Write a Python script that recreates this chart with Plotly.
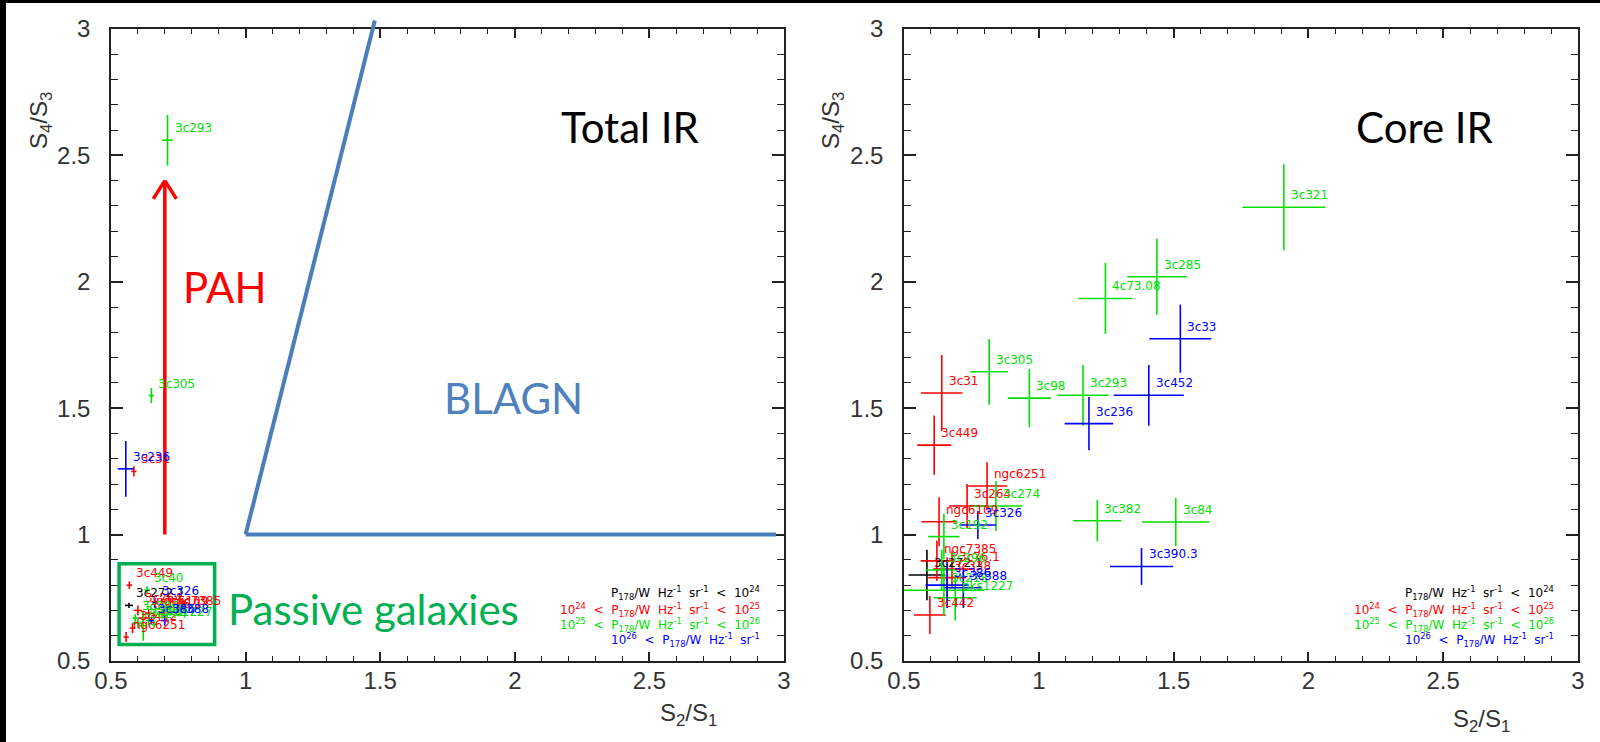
import plotly.graph_objects as go

# ---------------- data ----------------
# class codes: k = P<1e24, r = 1e24-1e25, g = 1e25-1e26, b = >1e26
left_names = ["3c293", "3c305", "3c236", "3c31", "3c449", "3c40", "3c272.1", "3c326",
              "ngc6251", "3c264", "ngc6109", "3c338", "3c76.1", "3c442", "ngc7385",
              "3c386", "3c388", "3c274", "pks1227", "3c218", "3c192", "3c296"]
left_x = [0.71, 0.65, 0.555, 0.585, 0.568, 0.634, 0.567, 0.663,
          0.556, 0.60, 0.64, 0.62, 0.66, 0.58, 0.69,
          0.65, 0.70, 0.62, 0.66, 0.60, 0.64, 0.59]
left_y = [2.56, 1.55, 1.26, 1.25, 0.80, 0.781, 0.72, 0.73,
          0.595, 0.70, 0.69, 0.67, 0.68, 0.63, 0.69,
          0.66, 0.66, 0.64, 0.645, 0.65, 0.66, 0.67]
left_xerr = [0.02, 0.01, 0.03, 0.01, 0.01, 0.01, 0.015, 0.01,
             0.01, 0.015, 0.01, 0.02, 0.01, 0.01, 0.01,
             0.01, 0.015, 0.015, 0.01, 0.02, 0.01, 0.01]
left_yerr = [0.10, 0.03, 0.11, 0.02, 0.015, 0.015, 0.01, 0.02,
             0.02, 0.02, 0.015, 0.02, 0.015, 0.02, 0.015,
             0.015, 0.02, 0.06, 0.015, 0.02, 0.02, 0.015]
left_cls = ["g", "g", "b", "r", "r", "g", "k", "b",
            "r", "r", "r", "r", "r", "r", "r",
            "b", "b", "g", "g", "g", "g", "g"]

right_names = ["3c321", "3c285", "4c73.08", "3c33", "3c452", "3c236", "3c293", "3c98",
               "3c305", "3c31", "3c449", "ngc6251", "3c264", "3c274", "ngc6109", "3c326",
               "3c192", "3c382", "3c84", "3c390.3", "3c272.1", "ngc7385", "3c76.1",
               "3c338", "3c442", "3c388", "3c386", "3c218", "pks1227", "3c296"]
right_x = [1.909, 1.438, 1.247, 1.525, 1.408, 1.186, 1.164, 0.965,
           0.816, 0.640, 0.612, 0.808, 0.734, 0.841, 0.630, 0.774,
           0.648, 1.217, 1.508, 1.381, 0.585, 0.622, 0.678,
           0.660, 0.596, 0.720, 0.660, 0.648, 0.690, 0.640]
right_y = [2.295, 2.020, 1.934, 1.775, 1.551, 1.439, 1.551, 1.540,
           1.644, 1.560, 1.354, 1.192, 1.113, 1.113, 1.051, 1.038,
           0.992, 1.055, 1.050, 0.874, 0.840, 0.896, 0.864,
           0.830, 0.682, 0.790, 0.800, 0.780, 0.750, 0.860]
right_xerr = [0.154, 0.110, 0.100, 0.115, 0.130, 0.090, 0.095, 0.080,
              0.070, 0.077, 0.063, 0.074, 0.067, 0.098, 0.065, 0.068,
              0.058, 0.089, 0.125, 0.117, 0.068, 0.060, 0.070,
              0.070, 0.059, 0.070, 0.080, 0.150, 0.080, 0.060]
right_yerr = [0.170, 0.150, 0.140, 0.135, 0.120, 0.105, 0.120, 0.115,
              0.130, 0.150, 0.117, 0.094, 0.087, 0.099, 0.097, 0.055,
              0.090, 0.082, 0.095, 0.073, 0.100, 0.080, 0.070,
              0.080, 0.075, 0.080, 0.090, 0.100, 0.090, 0.080]
right_cls = ["g", "g", "g", "b", "b", "b", "g", "g",
             "g", "r", "r", "r", "r", "g", "r", "b",
             "g", "g", "g", "b", "k", "r", "r",
             "r", "r", "b", "b", "g", "g", "g"]

class_colors = {"k": "#000000", "r": "#ff0000", "g": "#00e000", "b": "#0000ff"}
class_order = ["k", "r", "g", "b"]
legend_lines = {
    "k": "P<sub>178</sub>/W  Hz<sup>-1</sup>  sr<sup>-1</sup>  &lt;  10<sup>24</sup>",
    "r": "10<sup>24</sup>  &lt;  P<sub>178</sub>/W  Hz<sup>-1</sup>  sr<sup>-1</sup>  &lt;  10<sup>25</sup>",
    "g": "10<sup>25</sup>  &lt;  P<sub>178</sub>/W  Hz<sup>-1</sup>  sr<sup>-1</sup>  &lt;  10<sup>26</sup>",
    "b": "10<sup>26</sup>  &lt;  P<sub>178</sub>/W  Hz<sup>-1</sup>  sr<sup>-1</sup>",
}

# overlay annotations on the left panel (data units)
pah_arrow = {"x": 0.7, "y0": 1.0, "y1": 2.4}
blagn_corner = (1.0, 1.0)
blagn_top = (1.48, 3.034)
blagn_right = (2.97, 1.0)
passive_box = (0.53, 0.565, 0.885, 0.885)

# ---------------- figure ----------------
W, H = 1600, 742
X_RANGE = [0.5, 3.0]
Y_RANGE = [0.5, 3.0]
dom_x1 = [111 / W, 784 / W]
dom_x2 = [904 / W, 1578 / W]
dom_y = [1 - 661 / H, 1 - 29 / H]

fig = go.Figure()

def add_panel(names, xs, ys, xe, ye, cls, xa, ya):
    for c in class_order:
        idx = [i for i, v in enumerate(cls) if v == c]
        if not idx:
            continue
        col = class_colors[c]
        fig.add_trace(go.Scatter(
            x=[xs[i] for i in idx], y=[ys[i] for i in idx],
            mode="markers", marker=dict(size=1, color=col),
            error_x=dict(type="data", array=[xe[i] for i in idx], width=0, thickness=1.6, color=col),
            error_y=dict(type="data", array=[ye[i] for i in idx], width=0, thickness=1.6, color=col),
            xaxis=xa, yaxis=ya, showlegend=False, hoverinfo="skip"))
        for i in idx:
            fig.add_annotation(x=xs[i], y=ys[i], xref=xa, yref=ya, text=names[i],
                               showarrow=False, xanchor="left", yanchor="bottom",
                               xshift=5, yshift=3,
                               font=dict(size=12, color=col, family="DejaVu Sans"))
    # power-class legend text
    ypos = [0.1076, 0.0807, 0.0570, 0.0332]
    for c, yy in zip(class_order, ypos):
        fig.add_annotation(x=0.967, y=yy, xref=xa + " domain", yref=ya + " domain",
                           text=legend_lines[c], showarrow=False, xanchor="right",
                           yanchor="middle",
                           font=dict(size=12, color=class_colors[c], family="DejaVu Sans"))

add_panel(left_names, left_x, left_y, left_xerr, left_yerr, left_cls, "x", "y")
add_panel(right_names, right_x, right_y, right_xerr, right_yerr, right_cls, "x2", "y2")

axis_common = dict(range=X_RANGE, showgrid=False, zeroline=False, showline=True,
                   linecolor="#222", linewidth=1.5, mirror="ticks", ticks="inside",
                   tickwidth=1.5, tickcolor="#222", tick0=0.5, dtick=0.5, automargin=False,
                   tickfont=dict(family="Liberation Sans", size=24, color="#333"),
                   minor=dict(ticks="inside", dtick=0.1, tick0=0.5, ticklen=5,
                              tickwidth=1.3, tickcolor="#222", showgrid=False))
xax = dict(axis_common, ticklen=9, ticklabelstandoff=-3)
yax = dict(axis_common, range=Y_RANGE, ticklen=12, ticklabelstandoff=14,
           minor=dict(axis_common["minor"], ticklen=7))

fig.update_layout(
    width=W, height=H, autosize=False,
    margin=dict(l=0, r=0, t=0, b=0, pad=0, autoexpand=False),
    paper_bgcolor="white", plot_bgcolor="white", showlegend=False,
    xaxis=dict(xax, domain=dom_x1, anchor="y"),
    yaxis=dict(yax, domain=dom_y, anchor="x"),
    xaxis2=dict(xax, domain=dom_x2, anchor="y2"),
    yaxis2=dict(yax, domain=dom_y, anchor="x2"),
)

def to_dom(v, rng):
    return (v - rng[0]) / (rng[1] - rng[0])

# BLAGN wedge lines
blue = "#4a7ebb"
fig.add_shape(type="line", xref="x domain", yref="y domain",
              x0=to_dom(blagn_corner[0], X_RANGE), y0=to_dom(blagn_corner[1], Y_RANGE),
              x1=to_dom(blagn_top[0], X_RANGE), y1=to_dom(blagn_top[1], Y_RANGE),
              line=dict(color=blue, width=4))
fig.add_shape(type="line", xref="x domain", yref="y domain",
              x0=to_dom(blagn_corner[0], X_RANGE), y0=to_dom(blagn_corner[1], Y_RANGE),
              x1=to_dom(blagn_right[0], X_RANGE), y1=to_dom(blagn_right[1], Y_RANGE),
              line=dict(color=blue, width=4))

# PAH arrow
ax_ = pah_arrow["x"]
fig.add_shape(type="line", xref="x", yref="y", x0=ax_, y0=pah_arrow["y0"], x1=ax_, y1=pah_arrow["y1"],
              line=dict(color="#ff0000", width=3.5))
for sgn in (-1, 1):
    fig.add_shape(type="line", xref="x", yref="y", x0=ax_, y0=pah_arrow["y1"],
                  x1=ax_ + sgn * 0.043, y1=pah_arrow["y1"] - 0.072,
                  line=dict(color="#ff0000", width=3.5))

# passive galaxies box
fig.add_shape(type="rect", xref="x", yref="y", x0=passive_box[0], y0=passive_box[1],
              x1=passive_box[2], y1=passive_box[3], line=dict(color="#00b050", width=3.5))

big = "Lato"
def big_text(txt, x, y, color):
    fig.add_annotation(x=x / W, y=1 - y / H, xref="paper", yref="paper", text=txt,
                       showarrow=False, xanchor="center", yanchor="middle",
                       font=dict(family=big, size=42, color=color))

big_text("Total IR", 630, 127, "#000000")
big_text("Core IR", 1425, 127, "#000000")
big_text("BLAGN", 513, 398, "#4f81bd")
big_text("PAH", 225, 287, "#ff0000")
big_text("Passive galaxies", 373, 609, "#00b050")

# axis titles
for xc, yc in [(688, 714), (1481, 720)]:
    fig.add_annotation(x=xc / W, y=1 - yc / H, xref="paper", yref="paper",
                       text="S<sub>2</sub>/S<sub>1</sub>", showarrow=False,
                       xanchor="center", yanchor="middle",
                       font=dict(family="Liberation Sans", size=24, color="#333"))
for xc, yc in [(40, 121), (832, 121)]:
    fig.add_annotation(x=xc / W, y=1 - yc / H, xref="paper", yref="paper",
                       text="S<sub>4</sub>/S<sub>3</sub>", showarrow=False, textangle=-90,
                       xanchor="center", yanchor="middle",
                       font=dict(family="Liberation Sans", size=24, color="#333"))

# dark frame strips at top and left edges
fig.add_shape(type="rect", xref="paper", yref="paper", x0=0, x1=1, y0=1 - 3 / H, y1=1,
              fillcolor="black", line=dict(width=0), layer="below")
fig.add_shape(type="rect", xref="paper", yref="paper", x0=0, x1=6 / W, y0=0, y1=1,
              fillcolor="black", line=dict(width=0), layer="below")

fig.write_html(
    "out.html",
    post_script=("document.documentElement.style.margin='0';"
                 "document.body.style.margin='0';document.body.style.padding='0';"
                 "document.documentElement.style.overflow='hidden';"
                 "document.body.style.overflow='hidden';"),
)
